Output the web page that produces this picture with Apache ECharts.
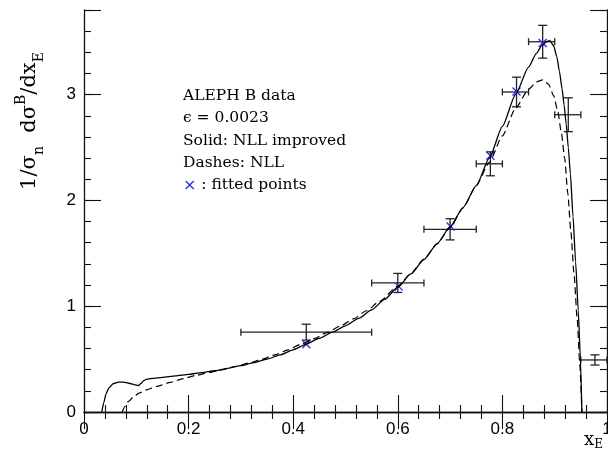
<!DOCTYPE html>
<html>
<head>
<meta charset="utf-8">
<script src="https://cdn.jsdelivr.net/npm/echarts@6/dist/echarts.min.js"></script>
<style>html,body{margin:0;padding:0;background:#fff;overflow:hidden}#c{width:608px;height:455px}</style>
</head>
<body>
<div id="c"></div>
<script>
// ---- Data ----
// Solid: NLL improved
var solidX = [0.034,0.038,0.042,0.048,0.056,0.066,0.076,0.086,0.096,0.104,0.109,0.114,0.120,0.130,0.150,0.175,0.200,0.225,0.250,0.275,0.300,0.325,0.350,0.375,0.400,0.425,0.450,0.475,0.500,0.525,0.550,0.575,0.600,0.625,0.650,0.675,0.700,0.725,0.750,0.775,0.800,0.825,0.850,0.865,0.875,0.884,0.891,0.898,0.904,0.909,0.914,0.918,0.922,0.926,0.930,0.935,0.940,0.945,0.949,0.952];
var solidY = [0,0.09,0.17,0.23,0.268,0.283,0.282,0.272,0.258,0.25,0.27,0.296,0.31,0.318,0.328,0.342,0.356,0.372,0.39,0.413,0.438,0.467,0.50,0.54,0.588,0.642,0.697,0.755,0.815,0.885,0.965,1.065,1.18,1.305,1.44,1.59,1.752,1.935,2.14,2.40,2.70,3.00,3.26,3.39,3.46,3.50,3.51,3.46,3.36,3.22,3.06,2.90,2.72,2.50,2.25,1.85,1.42,0.96,0.52,0];
// Dashes: NLL
var dashX = [0.073,0.078,0.085,0.095,0.105,0.120,0.140,0.165,0.190,0.215,0.240,0.265,0.290,0.315,0.340,0.365,0.390,0.415,0.440,0.465,0.490,0.515,0.540,0.565,0.600,0.625,0.650,0.675,0.700,0.725,0.750,0.775,0.800,0.825,0.850,0.865,0.877,0.888,0.898,0.906,0.913,0.919,0.925,0.931,0.937,0.943,0.948,0.952];
var dashY = [0,0.05,0.10,0.145,0.178,0.21,0.243,0.28,0.316,0.347,0.375,0.401,0.43,0.462,0.498,0.54,0.588,0.64,0.695,0.752,0.812,0.88,0.957,1.045,1.19,1.31,1.445,1.59,1.745,1.93,2.14,2.36,2.61,2.87,3.05,3.12,3.14,3.10,2.99,2.84,2.63,2.40,2.07,1.70,1.30,0.88,0.45,0];
// ALEPH B data with error bars
var dataX   = [0.425,0.600,0.700,0.777,0.827,0.877,0.926,0.977];
var dataXlo = [0.30,0.55,0.65,0.75,0.80,0.85,0.90,0.95];
var dataXhi = [0.55,0.65,0.75,0.80,0.85,0.90,0.95,1.00];
var dataY   = [0.755,1.22,1.727,2.346,3.025,3.50,2.81,0.492];
var dataErr = [0.075,0.09,0.10,0.113,0.14,0.155,0.16,0.048];
// Fitted points
var fitX = [0.425,0.602,0.701,0.777,0.827,0.877];
var fitY = [0.64,1.185,1.753,2.422,3.03,3.488];
// Ticks
var xTickLabels = {0:'0',0.2:'0.2',0.4:'0.4',0.6:'0.6',0.8:'0.8',1:'1'};
var yTickLabels = {0:'0',1:'1',2:'2',3:'3'};

function zip(a,b){return a.map(function(v,i){return [v,b[i]];});}
var errData = dataX.map(function(v,i){return [v,dataXlo[i],dataXhi[i],dataY[i],dataErr[i]];});

var tickFont = 'Liberation Sans';
var ink = '#111';

function xAx(pos, showLabel){
  return {type:'value', position:pos, min:0, max:1, interval:0.2,
    axisLine:{show:true, lineStyle:{color:ink, width:1.3}},
    axisTick:{show:true, inside:true, length:17, lineStyle:{color:ink, width:1.1}},
    minorTick:{show:true, splitNumber:5, length:7, lineStyle:{color:ink, width:1.1}},
    splitLine:{show:false}, minorSplitLine:{show:false},
    axisLabel:{show:showLabel, margin:9, color:'#000', fontFamily:tickFont, fontSize:17, hideOverlap:false,
      formatter:function(v){var k=Math.round(v*10)/10; return xTickLabels[k]!==undefined?xTickLabels[k]:'';}}
  };
}
function yAx(pos, interval, len, showLine, showLabel){
  return {type:'value', position:pos, min:0, max:3.8, interval:interval,
    axisLine:{show:showLine, lineStyle:{color:ink, width:1.3}},
    axisTick:{show:true, inside:true, length:len, lineStyle:{color:ink, width:1.1}},
    splitLine:{show:false},
    axisLabel:{show:showLabel, margin:8, color:'#000', fontFamily:tickFont, fontSize:17,
      formatter:function(v){var k=Math.round(v*10)/10; return yTickLabels[k]!==undefined?yTickLabels[k]:'';}}
  };
}

var chart = echarts.init(document.getElementById('c'), null, {renderer:'canvas'});
chart.setOption({
  animation:false,
  backgroundColor:'#fff',
  grid:{left:84, right:1, top:10, bottom:43, containLabel:false, outerBoundsMode:'none'},
  xAxis:[xAx('bottom', true), xAx('top', false)],
  yAxis:[yAx('left',1,17,true,true), yAx('left',0.2,7,false,false), yAx('right',1,17,true,false), yAx('right',0.2,7,false,false)],
  graphic:[
    {type:'text', left:183, top:85, style:{
      text:'ALEPH B data\nϵ = 0.0023\nSolid: NLL improved\nDashes: NLL\n{x|×} : fitted points',
      font:'15.5px "DejaVu Serif"', fill:'#000', lineHeight:22.3,
      rich:{x:{fill:'#2a2aee', font:'16px "DejaVu Sans"', lineHeight:22.3}}
    }},
    {type:'text', x:30, y:121, rotation:Math.PI/2, style:{
      text:'1/σ{s|n}  dσ{p|B}/dx{s|E}', align:'center', verticalAlign:'middle',
      font:'21px "DejaVu Serif"', fill:'#000', lineHeight:32,
      rich:{s:{font:'14px "DejaVu Serif"', fill:'#000', verticalAlign:'bottom', lineHeight:23},
            p:{font:'14px "DejaVu Serif"', fill:'#000', verticalAlign:'top', lineHeight:23}}
    }},
    {type:'text', left:584, top:429, style:{
      text:'x{s|E}', font:'18px "DejaVu Serif"', fill:'#000', lineHeight:22,
      rich:{s:{font:'12px "DejaVu Serif"', fill:'#000', verticalAlign:'bottom', lineHeight:16}}
    }}
  ],
  series:[
    {type:'line', name:'NLL improved', xAxisIndex:0, yAxisIndex:0, data:zip(solidX,solidY), showSymbol:false,
     smooth:0.2, smoothMonotone:'x', clip:true, lineStyle:{color:'#000', width:1.3}},
    {type:'line', name:'NLL', xAxisIndex:0, yAxisIndex:0, data:zip(dashX,dashY), showSymbol:false,
     smooth:0.2, smoothMonotone:'x', clip:true, lineStyle:{color:'#000', width:1.2, type:[7,4]}},
    {type:'custom', name:'ALEPH B data', xAxisIndex:0, yAxisIndex:0, data:errData, clip:true,
     renderItem:function(params, api){
       var xc=api.value(0), xl=api.value(1), xh=api.value(2), y=api.value(3), e=api.value(4);
       var pl=api.coord([xl,y]), ph=api.coord([xh,y]);
       var pt=api.coord([xc,y+e]), pb=api.coord([xc,y-e]);
       var st={stroke:'#222', lineWidth:1.3};
       var c=4.5, h=3.5;
       return {type:'group', children:[
         {type:'line', shape:{x1:pl[0],y1:pl[1],x2:ph[0],y2:ph[1]}, style:st},
         {type:'line', shape:{x1:pl[0],y1:pl[1]-h,x2:pl[0],y2:pl[1]+h}, style:st},
         {type:'line', shape:{x1:ph[0],y1:ph[1]-h,x2:ph[0],y2:ph[1]+h}, style:st},
         {type:'line', shape:{x1:pt[0],y1:pt[1],x2:pb[0],y2:pb[1]}, style:st},
         {type:'line', shape:{x1:pt[0]-c,y1:pt[1],x2:pt[0]+c,y2:pt[1]}, style:st},
         {type:'line', shape:{x1:pb[0]-c,y1:pb[1],x2:pb[0]+c,y2:pb[1]}, style:st}
       ]};
     }},
    {type:'custom', name:'fitted points', xAxisIndex:0, yAxisIndex:0, data:zip(fitX,fitY), clip:true,
     renderItem:function(params, api){
       var p=api.coord([api.value(0), api.value(1)]);
       var s=4, st={stroke:'#2a2aee', lineWidth:1.3};
       return {type:'group', children:[
         {type:'line', shape:{x1:p[0]-s,y1:p[1]-s,x2:p[0]+s,y2:p[1]+s}, style:st},
         {type:'line', shape:{x1:p[0]-s,y1:p[1]+s,x2:p[0]+s,y2:p[1]-s}, style:st}
       ]};
     }}
  ]
});
</script>
</body>
</html>
